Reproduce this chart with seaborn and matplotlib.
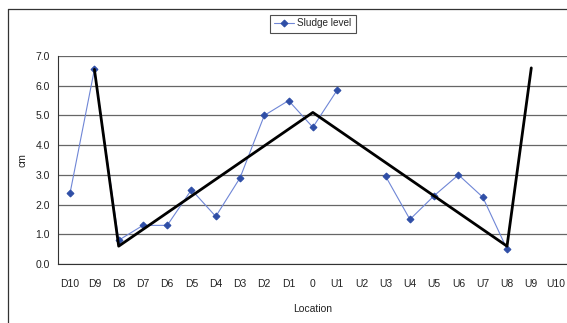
import numpy as np
import pandas as pd
import matplotlib
matplotlib.use("Agg")
import matplotlib.pyplot as plt
from matplotlib.lines import Line2D
import seaborn as sns

locations = ["D10", "D9", "D8", "D7", "D6", "D5", "D4", "D3", "D2", "D1", "0",
             "U1", "U2", "U3", "U4", "U5", "U6", "U7", "U8", "U9", "U10"]
sludge = [2.4, 6.55, 0.8, 1.3, 1.3, 2.5, 1.6, 2.9, 5.0, 5.5, 4.6,
          5.85, np.nan, 2.95, 1.5, 2.3, 3.0, 2.25, 0.5, np.nan, np.nan]
trend_loc = ["D9", "D8", "0", "U8", "U9"]
trend_val = [6.55, 0.6, 5.1, 0.6, 6.6]

sns.set_theme(style="white")
plt.rcParams["font.family"] = ["Liberation Sans", "DejaVu Sans"]

df = pd.DataFrame({"pos": range(len(locations)), "loc": locations, "cm": sludge})
# split into runs so missing readings leave gaps
df["run"] = df["cm"].isna().cumsum()
df = df.dropna()
trend = pd.DataFrame({"pos": [locations.index(l) for l in trend_loc], "cm": trend_val})

fig = plt.figure(figsize=(5.67, 3.23), dpi=100)
ax = fig.add_axes([58 / 567, 1 - 264 / 323, 509.7 / 567, 208 / 323])

blue_line = "#6f86d6"
blue_mark = "#2f4ea6"
for i, (_, seg) in enumerate(df.groupby("run")):
    sns.lineplot(data=seg, x="pos", y="cm", ax=ax, color=blue_line, lw=0.8,
                 marker="D", markersize=3.5, markerfacecolor=blue_mark,
                 markeredgecolor=blue_mark, label="Sludge level" if i == 0 else None)
sns.lineplot(data=trend, x="pos", y="cm", ax=ax, color="black", lw=2, legend=False)

ax.set_xlim(-0.5, len(locations) - 0.5)
ax.set_ylim(0, 7)
ax.set_yticks(np.arange(0, 8, 1))
ax.set_yticklabels([f"{v:.1f}" for v in range(8)])
ax.set_xticks(range(len(locations)))
ax.set_xticklabels(locations)
ax.set_xticks(np.arange(-0.5, len(locations), 1), minor=True)
ax.tick_params(axis="x", which="major", length=0, pad=11, labelsize=7.5, colors="#222222")
ax.tick_params(axis="x", which="minor", length=4, width=0.8, color="#333333", direction="out")
ax.tick_params(axis="y", length=3, width=0.8, color="#333333", direction="out",
               pad=3, labelsize=7.5, labelcolor="#222222")
ax.yaxis.grid(True, color="#666666", lw=0.9)
ax.set_axisbelow(True)
for s in ["top", "right"]:
    ax.spines[s].set_visible(False)
for s in ["left", "bottom"]:
    ax.spines[s].set_color("#333333")
    ax.spines[s].set_linewidth(0.8)

ax.set_xlabel("Location", fontsize=7.5, color="#222222")
ax.set_ylabel("cm", fontsize=7.5, color="#222222")
ax.xaxis.set_label_coords(0.5, -0.19)
ax.yaxis.set_label_coords(-0.059, 0.5)

leg = ax.legend(loc="center", bbox_to_anchor=(313 / 567, 1 - 23.5 / 323),
                bbox_transform=fig.transFigure, fontsize=7.2, frameon=True,
                fancybox=False, handlelength=2.0, borderpad=0.4, handletextpad=0.3)
leg.get_frame().set_edgecolor("#222222")
leg.get_frame().set_linewidth(0.8)

# outer chart frame
fig.add_artist(Line2D([8 / 567, 8 / 567], [0, 1 - 9 / 323], color="#333333", lw=0.9,
                      transform=fig.transFigure))
fig.add_artist(Line2D([8 / 567, 1], [1 - 9 / 323, 1 - 9 / 323], color="#333333", lw=0.9,
                      transform=fig.transFigure))

fig.savefig("out.png", dpi=100)
